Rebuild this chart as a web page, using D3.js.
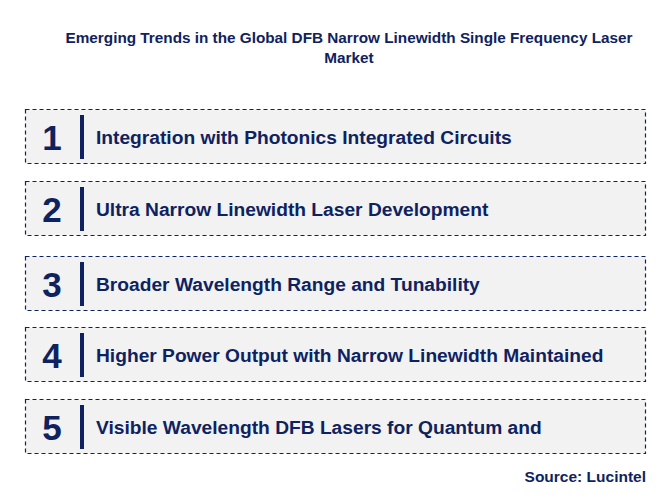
<!DOCTYPE html>
<html><head><meta charset="utf-8">
<script src="https://cdn.jsdelivr.net/npm/d3@7"></script>
<style>body{margin:0;background:#fff}</style>
</head><body>
<svg id="chart" width="667" height="502"></svg>
<script>
var titleLines = ['Emerging Trends in the Global DFB Narrow Linewidth Single Frequency Laser', 'Market'];
var ranks = [1, 2, 3, 4, 5];
var trends = [
  'Integration with Photonics Integrated Circuits',
  'Ultra Narrow Linewidth Laser Development',
  'Broader Wavelength Range and Tunability',
  'Higher Power Output with Narrow Linewidth Maintained',
  'Visible Wavelength DFB Lasers for Quantum and'
];
var boxTops = [109, 181, 256, 327, 399];

var navy = '#0f2260';
var svg = d3.select('svg#chart');

svg.append('text')
    .attr('x', 349).attr('y', 43)
    .attr('text-anchor', 'middle')
    .attr('font-family', 'Arial, Liberation Sans, sans-serif')
    .attr('font-size', 15.3).attr('font-weight', 'bold')
    .attr('fill', navy)
    .selectAll('tspan').data(titleLines).join('tspan')
    .attr('x', 349).attr('dy', (d, i) => i ? 20 : 0)
    .text(d => d);

var rows = svg.selectAll('g.row').data(trends).join('g')
    .attr('class', 'row')
    .attr('transform', (d, i) => 'translate(0,' + boxTops[i] + ')');

rows.append('rect')
    .attr('x', 25.5).attr('y', 0.5).attr('width', 620).attr('height', 54)
    .attr('fill', '#f2f2f2').attr('stroke', navy)
    .attr('stroke-width', 1.2).attr('stroke-dasharray', '4,3');

rows.append('text')
    .attr('x', 52).attr('y', 41)
    .attr('text-anchor', 'middle')
    .attr('font-family', 'Arial, Liberation Sans, sans-serif')
    .attr('font-size', 35).attr('font-weight', 'bold')
    .attr('fill', navy)
    .text((d, i) => ranks[i]);

rows.append('rect')
    .attr('x', 80).attr('y', 6).attr('width', 4).attr('height', 44)
    .attr('fill', navy);

rows.append('text')
    .attr('x', 96).attr('y', 35)
    .attr('font-family', 'Arial, Liberation Sans, sans-serif')
    .attr('font-size', 19.2).attr('font-weight', 'bold')
    .attr('fill', navy)
    .text(d => d);

svg.append('text')
    .attr('x', 646).attr('y', 482)
    .attr('text-anchor', 'end')
    .attr('font-family', 'Arial, Liberation Sans, sans-serif')
    .attr('font-size', 15.5).attr('font-weight', 'bold')
    .attr('fill', navy)
    .text('Source: Lucintel');
</script>
</body></html>
